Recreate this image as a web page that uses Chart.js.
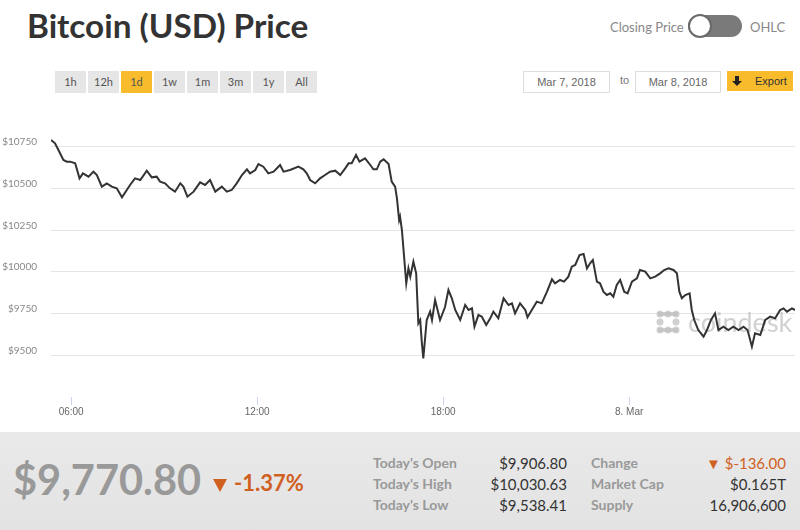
<!DOCTYPE html>
<html lang="en">
<head>
    <meta charset="UTF-8">
    <title>Bitcoin (USD) Price</title>
    <script src="https://cdn.jsdelivr.net/npm/chart.js"></script>
    <style>
        body {
            margin: 0;
            width: 800px;
            height: 530px;
            overflow: hidden;
            background: #fff;
            font-family: Lato, "Open Sans", sans-serif;
            position: relative;
        }
        .abs { position: absolute; }
        h1 {
            position: absolute;
            left: 27px;
            top: 5px;
            margin: 0;
            font-size: 33.3px;
            line-height: 40px;
            font-weight: 700;
            color: #333;
        }
        .toggle-label {
            top: 19px;
            font-size: 13px;
            color: #888;
        }
        .track {
            left: 688px;
            top: 15px;
            width: 54px;
            height: 22px;
            border-radius: 11px;
            background: #7a7a7a;
        }
        .knob {
            left: 688px;
            top: 14px;
            width: 20px;
            height: 20px;
            border-radius: 50%;
            background: #fff;
            border: 2px solid #6a6a6a;
        }
        .range {
            top: 71px;
            width: 31px;
            height: 22px;
            line-height: 22px;
            text-align: center;
            font-size: 11px;
            color: #555;
            background: #e6e6e6;
        }
        .range.active { background: #f8bb2c; }
        .date {
            top: 71px;
            height: 20px;
            line-height: 20px;
            border: 1px solid #ddd;
            text-align: center;
            font-family: "Liberation Sans", Arial, sans-serif;
            font-size: 11px;
            color: #666;
            background: #fff;
        }
        .export {
            left: 727px;
            top: 71px;
            width: 66px;
            height: 20px;
            line-height: 20px;
            background: #f8bb2c;
            font-family: "Liberation Sans", Arial, sans-serif;
            font-size: 11px;
            color: #333;
        }
        .arrow {
            left: 735px;
            top: 76px;
            width: 4px;
            height: 5px;
            background: #222;
        }
        .arrow-head {
            left: 732px;
            top: 81px;
            width: 0;
            height: 0;
            border-left: 5px solid transparent;
            border-right: 5px solid transparent;
            border-top: 5px solid #222;
        }
        #wrap {
            position: absolute;
            left: 0;
            top: 100px;
            width: 800px;
            height: 330px;
        }
        .panel {
            left: 0;
            top: 432px;
            width: 800px;
            height: 98px;
            background: linear-gradient(#e9e9e9, #e3e3e3);
        }
        .big {
            left: 13px;
            top: 454px;
            font-size: 41.5px;
            font-weight: 700;
            color: #999;
            line-height: 50px;
        }
        .tri {
            width: 0;
            height: 0;
            border-left: 7.5px solid transparent;
            border-right: 7.5px solid transparent;
            border-top: 13px solid #d0601f;
        }
        .pct {
            left: 234px;
            top: 469px;
            font-size: 22px;
            font-weight: 700;
            color: #d0601f;
            line-height: 28px;
        }
        .lab {
            font-size: 14px;
            font-weight: 700;
            color: #999;
            line-height: 18px;
        }
        .val {
            font-size: 15px;
            color: #333;
            line-height: 18px;
            text-align: right;
        }
    </style>
</head>
<body>
    <h1>Bitcoin (USD) Price</h1>

    <div class="abs toggle-label" style="left:610px;">Closing Price</div>
    <div class="abs track"></div>
    <div class="abs knob"></div>
    <div class="abs toggle-label" style="left:750px;">OHLC</div>

    <div id="ranges"></div>

    <div class="abs date" style="left:523px; width:85px;">Mar 7, 2018</div>
    <div class="abs" style="left:620px; top:74px; font-family:'Liberation Sans',Arial,sans-serif; font-size:11px; color:#777;">to</div>
    <div class="abs date" style="left:635px; width:84px;">Mar 8, 2018</div>
    <div class="abs export"><span style="margin-left:28px;">Export</span></div>
    <div class="abs arrow"></div>
    <div class="abs arrow-head"></div>

    <div id="wrap"><canvas id="chart" width="800" height="330"></canvas></div>

    <div class="abs panel"></div>
    <div class="abs big">$9,770.80</div>
    <div class="abs tri" style="left:213px; top:479px;"></div>
    <div class="abs pct">-1.37%</div>
    <div id="stats"></div>

    <script>
        // hours since Mar 7 00:00 and closing price
        const hours = [
            5.35, 5.48, 5.59, 5.75, 5.86, 5.97, 6.13, 6.27, 6.38, 6.56, 6.72, 6.83, 6.99, 7.15, 7.31, 7.47,
            7.64, 7.90, 8.06, 8.23, 8.44, 8.60, 8.76, 8.87, 9.03, 9.19, 9.35, 9.52, 9.62, 9.75, 9.95, 10.16,
            10.32, 10.48, 10.65, 10.86, 11.02, 11.18, 11.34, 11.51, 11.67, 11.77, 11.94, 12.04, 12.20, 12.36,
            12.53, 12.74, 12.85, 13.06, 13.33, 13.49, 13.60, 13.71, 13.87, 14.03, 14.19, 14.35, 14.52, 14.68,
            14.84, 14.95, 15.05, 15.19, 15.30, 15.48, 15.65, 15.75, 15.86, 15.97, 16.08, 16.24, 16.34, 16.45,
            16.51, 16.58, 16.61, 16.67, 16.81, 16.88, 16.94, 17.04, 17.13, 17.20, 17.26, 17.31, 17.36, 17.47,
            17.58, 17.64, 17.74, 17.90, 18.06, 18.17, 18.28, 18.39, 18.55, 18.71, 18.82, 18.93, 19.01, 19.14,
            19.25, 19.39, 19.52, 19.62, 19.78, 19.95, 20.11, 20.22, 20.32, 20.48, 20.65, 20.72, 20.86, 21.02,
            21.18, 21.35, 21.51, 21.61, 21.77, 21.90, 22.04, 22.15, 22.26, 22.40, 22.53, 22.64, 22.74, 22.83,
            22.96, 23.06, 23.17, 23.28, 23.39, 23.49, 23.60, 23.71, 23.84, 23.95, 24.09, 24.25, 24.35, 24.52,
            24.68, 24.84, 25.00, 25.13, 25.27, 25.43, 25.54, 25.62, 25.70, 25.81, 25.95, 26.02, 26.10, 26.23,
            26.40, 26.51, 26.64, 26.77, 26.88, 27.04, 27.20, 27.36, 27.53, 27.69, 27.82, 27.96, 28.06, 28.23,
            28.39, 28.55, 28.71, 28.87, 28.98, 29.09, 29.25, 29.35
        ];
        const prices = [
            10792, 10772, 10732, 10672, 10662, 10662, 10652, 10562, 10592, 10572, 10602, 10582, 10512, 10532, 10512, 10502,
            10448, 10522, 10562, 10552, 10608, 10568, 10572, 10542, 10532, 10502, 10482, 10532, 10512, 10452, 10482, 10538,
            10522, 10552, 10482, 10512, 10482, 10492, 10532, 10582, 10616, 10592, 10612, 10648, 10632, 10592,
            10602, 10642, 10602, 10612, 10632, 10616, 10592, 10552, 10532, 10562, 10582, 10602, 10608, 10582,
            10622, 10652, 10652, 10702, 10662, 10682, 10642, 10616, 10616, 10662, 10676, 10648, 10542, 10512,
            10442, 10312, 10332, 10252, 9932, 10022, 9972, 10062, 9992, 9692, 9712, 9582, 9482, 9712,
            9762, 9712, 9832, 9712, 9790, 9892, 9842, 9772, 9712, 9802, 9772, 9782, 9672, 9742,
            9732, 9682, 9722, 9762, 9722, 9842, 9802, 9812, 9752, 9812, 9772, 9728, 9772, 9822,
            9812, 9882, 9956, 9932, 9952, 9942, 9972, 10032, 10042, 10102, 10108, 10022, 10052, 10072,
            9942, 9932, 9882, 9862, 9872, 9852, 9922, 9952, 9882, 9872, 9942, 9962, 10012, 10002,
            9962, 9972, 9992, 10012, 10022, 10012, 9992, 9882, 9842, 9862, 9872, 9772, 9712, 9652,
            9612, 9652, 9712, 9752, 9652, 9672, 9652, 9672, 9652, 9672, 9652, 9552, 9632, 9622,
            9712, 9732, 9722, 9772, 9782, 9762, 9782, 9772
        ];

        const xTicks = [6, 12, 18, 24];
        const xTickLabels = ['06:00', '12:00', '18:00', '8. Mar'];
        const yTicks = [9500, 9750, 10000, 10250, 10500, 10750];

        const ranges = ['1h', '12h', '1d', '1w', '1m', '3m', '1y', 'All'];
        const activeRange = '1d';

        const statRows = [
            ["Today's Open", '$9,906.80', 'Change', '&#9660; $-136.00'],
            ["Today's High", '$10,030.63', 'Market Cap', '$0.165T'],
            ["Today's Low", '$9,538.41', 'Supply', '16,906,600']
        ];

        // range buttons
        const rangesEl = document.getElementById('ranges');
        ranges.forEach((r, i) => {
            const d = document.createElement('div');
            d.className = 'abs range' + (r === activeRange ? ' active' : '');
            d.style.left = (55 + i * 33) + 'px';
            d.textContent = r;
            rangesEl.appendChild(d);
        });

        // stats table
        const statsEl = document.getElementById('stats');
        statRows.forEach((row, i) => {
            const top = 454 + i * 21;
            statsEl.innerHTML += `
                <div class="abs lab" style="left:373px; top:${top}px;">${row[0]}</div>
                <div class="abs val" style="left:467px; width:100px; top:${top}px;">${row[1]}</div>
                <div class="abs lab" style="left:591px; top:${top}px;">${row[2]}</div>
                <div class="abs val" style="left:686px; width:100px; top:${top}px;${i === 0 ? ' color:#d0601f;' : ''}">${row[3]}</div>
            `;
        });

        // coindesk watermark behind the line
        const watermark = {
            id: 'watermark',
            beforeDatasetsDraw(chart) {
                const ctx = chart.ctx;
                ctx.save();
                ctx.fillStyle = 'rgba(190,190,190,0.7)';
                const ox = 657, oy = 211;
                const dots = [[0, 0], [8, 0], [16, 0], [0, 8], [0, 16], [8, 16], [16, 16], [16, 8]];
                dots.forEach(d => {
                    ctx.beginPath();
                    ctx.arc(ox + 3 + d[0], oy + 3 + d[1], 3.5, 0, Math.PI * 2);
                    ctx.fill();
                });
                ctx.fillRect(ox + 1, oy + 1, 20, 4);
                ctx.fillRect(ox + 1, oy + 17, 20, 4);
                ctx.font = '27px Lato, sans-serif';
                ctx.textBaseline = 'alphabetic';
                ctx.fillText('coindesk', 688, oy + 21);
                ctx.restore();
            }
        };

        const data = hours.map((h, i) => ({ x: h, y: prices[i] }));

        new Chart(document.getElementById('chart'), {
            type: 'line',
            data: {
                datasets: [{
                    label: 'Closing Price',
                    data: data,
                    borderColor: '#333',
                    borderWidth: 2,
                    pointRadius: 0,
                    tension: 0,
                    fill: false
                }]
            },
            options: {
                responsive: false,
                animation: false,
                layout: { padding: { top: 35, right: 5, left: 0, bottom: 0 } },
                plugins: {
                    legend: { display: false },
                    tooltip: { enabled: false }
                },
                scales: {
                    x: {
                        type: 'linear',
                        min: 5.35,
                        max: 29.35,
                        afterBuildTicks: scale => { scale.ticks = xTicks.map(v => ({ value: v })); },
                        afterFit: scale => { scale.height = 33; },
                        grid: {
                            drawOnChartArea: false,
                            drawTicks: true,
                            tickLength: 8,
                            color: '#ccd6eb'
                        },
                        border: { display: false },
                        ticks: {
                            padding: 1,
                            maxRotation: 0,
                            color: '#666',
                            font: { family: '"Liberation Sans", Arial, sans-serif', size: 10 },
                            callback: v => xTickLabels[xTicks.indexOf(v)]
                        }
                    },
                    y: {
                        min: 9250,
                        max: 10822,
                        afterBuildTicks: scale => { scale.ticks = yTicks.map(v => ({ value: v })); },
                        afterFit: scale => { scale.width = 51; },
                        grid: { color: '#e6e6e6', drawTicks: false },
                        border: { display: false },
                        ticks: {
                            padding: 14,
                            labelOffset: -5,
                            color: '#888',
                            font: { family: 'Lato, sans-serif', size: 10 },
                            callback: v => '$' + v
                        }
                    }
                }
            },
            plugins: [watermark]
        });
    </script>
</body>
</html>
